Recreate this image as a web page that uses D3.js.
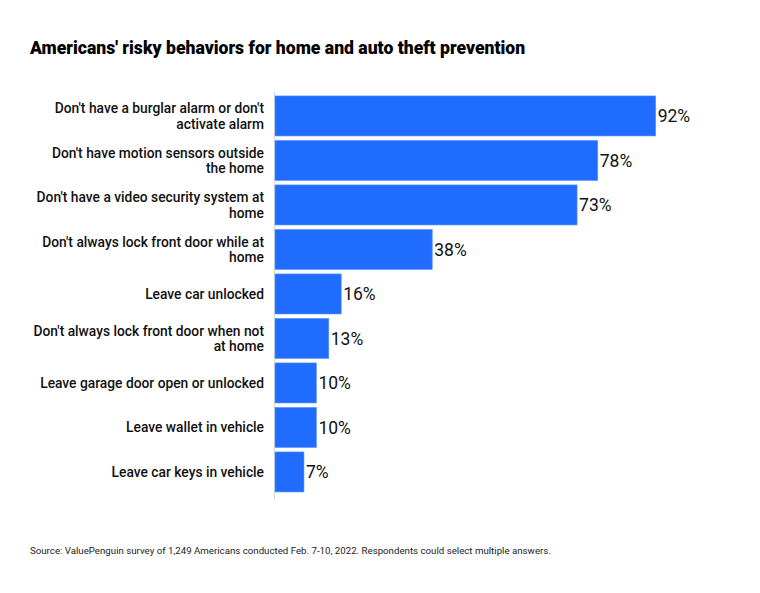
<!DOCTYPE html>
<html>
<head>
<meta charset="utf-8">
<script src="https://cdn.jsdelivr.net/npm/d3@7"></script>
<style>
  body { margin: 0; background: #fff; }
  text { font-family: Roboto, "Noto Sans", sans-serif; }
</style>
</head>
<body>
<svg id="chart" width="760" height="593"></svg>
<script>
// line breaks in the labels follow the original chart
const categories = [
  "Don't have a burglar alarm or don't\nactivate alarm",
  "Don't have motion sensors outside\nthe home",
  "Don't have a video security system at\nhome",
  "Don't always lock front door while at\nhome",
  "Leave car unlocked",
  "Don't always lock front door when not\nat home",
  "Leave garage door open or unlocked",
  "Leave wallet in vehicle",
  "Leave car keys in vehicle"
];
const values = [92, 78, 73, 38, 16, 13, 10, 10, 7];

const svg = d3.select('#chart');
const plotLeft = 275, plotTop = 96;

const x = d3.scaleLinear().domain([0, 100]).range([plotLeft, plotLeft + 413.8]);
const y = d3.scaleBand()
  .domain(categories)
  .range([plotTop - 2.3, plotTop - 2.3 + 44.5 * 9])
  .paddingInner(0.1)
  .paddingOuter(0.05);

svg.append('text')
  .attr('x', 30).attr('y', 54)
  .attr('font-size', 17.6).attr('font-weight', 900)
  .attr('fill', '#000')
  .text("Americans' risky behaviors for home and auto theft prevention");

svg.append('line')
  .attr('x1', plotLeft - 0.5).attr('x2', plotLeft - 0.5)
  .attr('y1', 92).attr('y2', 500)
  .attr('stroke', '#d9d9d9').attr('stroke-width', 1);

svg.selectAll('rect.bar')
  .data(values)
  .join('rect')
  .attr('class', 'bar')
  .attr('x', x(0))
  .attr('y', (d, i) => y(categories[i]))
  .attr('width', d => x(d) - x(0))
  .attr('height', y.bandwidth())
  .attr('fill', '#1f6cff')
  .attr('stroke', '#5c93ff')
  .attr('stroke-width', 0.6);

svg.selectAll('text.val')
  .data(values)
  .join('text')
  .attr('class', 'val')
  .attr('x', d => x(d) + 2)
  .attr('y', (d, i) => y(categories[i]) + y.bandwidth() / 2)
  .attr('dy', '0.36em')
  .attr('font-size', 17.5)
  .attr('fill', '#111')
  .text(d => d + '%');

// category labels, right-aligned left of the axis
const lineH = 15.5;
categories.forEach(c => {
  const lines = c.split('\n');
  const t = svg.append('text')
    .attr('text-anchor', 'end')
    .attr('font-size', 13.8)
    .attr('font-weight', 500)
    .attr('fill', '#111');
  const cy = y(c) + y.bandwidth() / 2;
  const y0 = cy - (lines.length - 1) * lineH / 2;
  lines.forEach((l, i) => {
    t.append('tspan')
      .attr('x', 264)
      .attr('y', y0 + i * lineH)
      .attr('dy', '0.35em')
      .text(l);
  });
});

svg.append('text')
  .attr('x', 30).attr('y', 554)
  .attr('font-size', 9.7)
  .attr('fill', '#222')
  .text('Source: ValuePenguin survey of 1,249 Americans conducted Feb. 7-10, 2022. Respondents could select multiple answers.');
</script>
</body>
</html>
